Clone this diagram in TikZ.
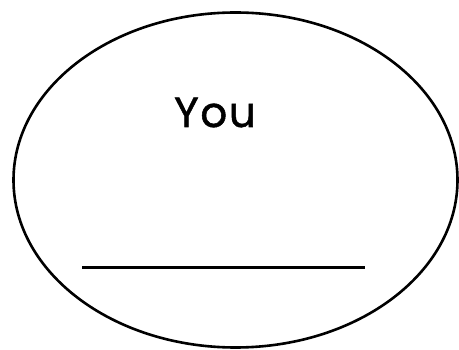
\documentclass[tikz,border=0pt]{standalone}
\usepackage{fontspec}
\setmainfont{Poppins}
\newfontfamily\youfont{Poppins}[FakeBold=1.2,LetterSpace=4]
\begin{document}
\begin{tikzpicture}[x=1pt,y=-1pt,
  outline/.style={draw=black,line width=2.6pt},
  label/.style={font=\youfont\fontsize{42}{46}\selectfont,inner sep=0pt,anchor=base}]
\useasboundingbox (0,0) rectangle (459,350);
\draw[outline] (235.5,180) ellipse [x radius=222,y radius=167.5];
\node[label] (you) at (215,127) {You};
\coordinate (la) at (82,268);
\coordinate (lb) at (365,268);
\draw[line width=3pt] (la) -- (lb);
\end{tikzpicture}
\end{document}
